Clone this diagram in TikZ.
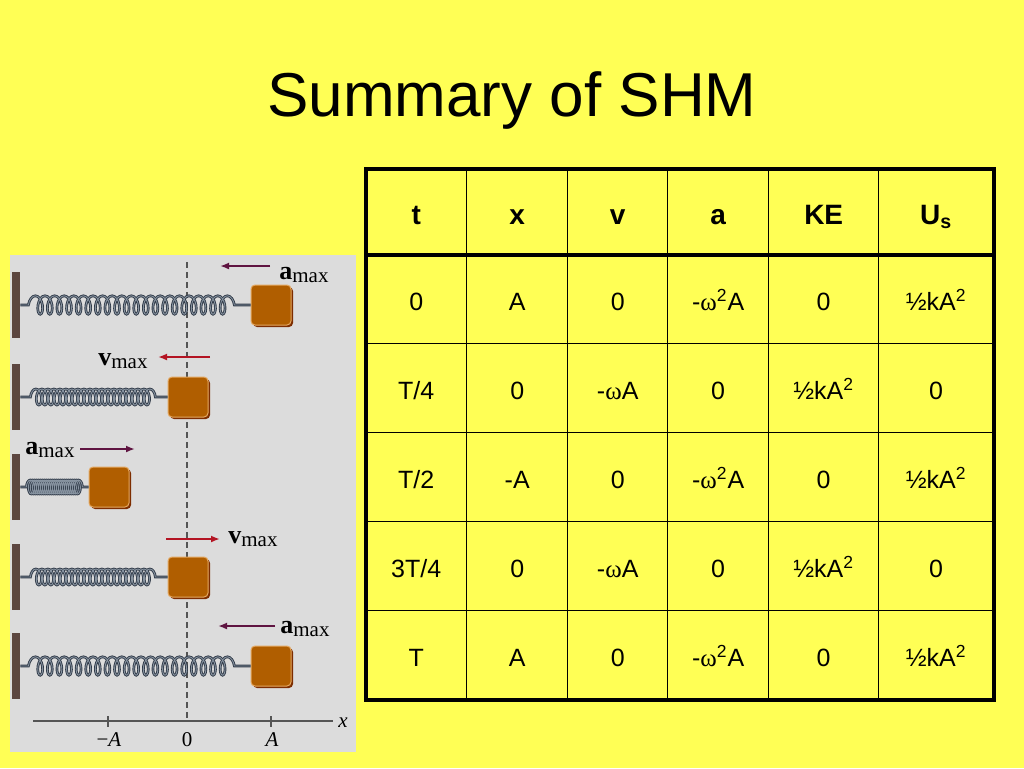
\documentclass[tikz,border=0pt]{standalone}
\usepackage{fontspec}
\setmainfont{Liberation Sans}
\newfontfamily\timesfont{Liberation Serif}
\usepackage{tikz}
\usetikzlibrary{arrows.meta}
\usetikzlibrary{positioning}
\usetikzlibrary{matrix}
\usetikzlibrary{shadows}
\usetikzlibrary{decorations.pathmorphing}

\definecolor{slideyellow}{RGB}{255,255,85}
\definecolor{panelgray}{RGB}{220,220,220}
\definecolor{wallbrown}{RGB}{92,70,64}
\definecolor{blockfill}{RGB}{176,94,0}
\definecolor{blockdark}{RGB}{125,45,0}
\definecolor{blocklight}{RGB}{228,168,98}
\definecolor{springdark}{RGB}{48,58,72}
\definecolor{springlight}{RGB}{135,147,160}
\definecolor{accpurple}{RGB}{95,20,65}
\definecolor{velred}{RGB}{180,20,35}
\definecolor{axisgray}{RGB}{85,85,85}

\tikzset{>=latex}
\tikzstyle{wall} = [rectangle, inner sep=0, minimum width=4pt, minimum height=33pt, fill=wallbrown]
\tikzstyle{blk} = [rectangle, inner sep=0, minimum size=20pt, fill=blockfill, draw=blocklight, line width=0.5pt,
  rounded corners=2pt, drop shadow={shadow xshift=1pt, shadow yshift=-1pt, fill=blockdark, opacity=1}]
\tikzstyle{lbl} = [inner sep=0, anchor=base west, font=\timesfont\fontsize{13}{13}\selectfont]
\tikzstyle{axlbl} = [inner sep=0, anchor=base, font=\timesfont\fontsize{10.5}{10.5}\selectfont]
\tikzstyle{acc} = [-{Latex[length=4.5pt,width=3.5pt]}, draw=accpurple, line width=1pt]
\tikzstyle{vel} = [-{Latex[length=4.5pt,width=3.5pt]}, draw=velred, line width=1pt]
\tikzset{
  spring/.style n args={3}{decorate, decoration={coil, amplitude=#1, segment length=#2, pre length=#3, post length=#3},
    draw=springdark, line width=0.45pt, double=springlight, double distance=0.45pt},
  cell/.style={draw, line width=0.7pt, inner sep=0, outer sep=0, minimum height=44.5pt,
    text height=12pt, text depth=0.9pt, font=\fontsize{12.5}{12.5}\selectfont},
  hcell/.style={minimum height=43pt, text height=13.5pt, text depth=1pt, font=\bfseries\fontsize{14}{14}\selectfont}
}
\newcommand{\om}{{\timesfont ω}}
\newcommand{\maxsub}{\raisebox{-0.28ex}{\fontsize{10.5}{10.5}\selectfont max}}

\begin{document}
\begin{tikzpicture}[x=0.5pt, y=-0.5pt]
\fill[slideyellow] (0,0) rectangle (1024,768);
\useasboundingbox (0,0) rectangle (1024,768);
\node[anchor=base, inner sep=0, font=\fontsize{31}{31}\selectfont] (title) at (512,116) {Summary of SHM};

% the springs picture
\fill[panelgray] (10,255) rectangle (356,752);
\coordinate (eqtop) at (187,262);
\coordinate (eqbot) at (187,721);
\draw[axisgray, line width=0.6pt, dash pattern=on 3pt off 2pt] (eqtop) -- (eqbot);

\node[wall] (w1) at (16,305) {};
\node[wall] (w2) at (16,397) {};
\node[wall] (w3) at (16,487) {};
\node[wall] (w4) at (16,577) {};
\node[wall] (w5) at (16,666) {};
\node[blk] (b1) at (271,305) {};
\node[blk] (b2) at (188,397) {};
\node[blk] (b3) at (109,487) {};
\node[blk] (b4) at (188,577) {};
\node[blk] (b5) at (271,666) {};
\draw[spring={4.6pt}{4.8pt}{4pt}] (w1.east) -- (b1.west);
\draw[spring={4pt}{3pt}{5pt}] (w2.east) -- (b2.west);
\draw[spring={3.5pt}{1pt}{3pt}] (w3.east) -- (b3.west);
\draw[spring={4pt}{3pt}{5pt}] (w4.east) -- (b4.west);
\draw[spring={4.6pt}{4.8pt}{4pt}] (w5.east) -- (b5.west);

% arrows and their labels
\node[lbl] (l1) at (279,279) {\textbf{a}\maxsub};
\node[lbl] (l2) at (98,365) {\textbf{v}\maxsub};
\node[lbl] (l3) at (25,454) {\textbf{a}\maxsub};
\node[lbl] (l4) at (228,543) {\textbf{v}\maxsub};
\node[lbl] (l5) at (280,633) {\textbf{a}\maxsub};
\coordinate (a1s) at (270,266); \coordinate (a1e) at (220,266);
\coordinate (a2s) at (210,357); \coordinate (a2e) at (158,357);
\coordinate (a3s) at (80,449);  \coordinate (a3e) at (135,449);
\coordinate (a4s) at (166,539); \coordinate (a4e) at (220,539);
\coordinate (a5s) at (275,626); \coordinate (a5e) at (218,626);
\draw[acc] (a1s) -- (a1e);
\draw[vel] (a2s) -- (a2e);
\draw[acc] (a3s) -- (a3e);
\draw[vel] (a4s) -- (a4e);
\draw[acc] (a5s) -- (a5e);

% x axis
\coordinate (ax0) at (33,721);
\coordinate (ax1) at (333,721);
\draw[axisgray, line width=0.7pt] (ax0) -- (ax1);
\foreach \t in {108,271}
  \draw[axisgray, line width=0.7pt] (\t,716) -- (\t,727);
\node[axlbl] (xm) at (109,746) {−\textit{A}};
\node[axlbl] (xz) at (187,746) {0};
\node[axlbl] (xp) at (272,746) {\textit{A}};
\node[axlbl] (xl) at (343,727) {\textit{x}};

% summary table
\matrix (tbl) [matrix of nodes, anchor=north west, inner sep=0, outer sep=0, column sep=-0.7pt, row sep=-0.7pt,
  nodes={cell}, row 1/.style={nodes={hcell}},
  column 1/.style={nodes={minimum width=50.5pt}},
  column 2/.style={nodes={minimum width=50.5pt}},
  column 3/.style={nodes={minimum width=50pt}},
  column 4/.style={nodes={minimum width=50.5pt}},
  column 5/.style={nodes={minimum width=55pt}},
  column 6/.style={nodes={minimum width=57.5pt}}] at (365,168) {
  t & x & v & a & KE & U\textsubscript{s} \\
  0 & A & 0 & -\om\textsuperscript{2}A & 0 & ½kA\textsuperscript{2} \\
  T/4 & 0 & -\om A & 0 & ½kA\textsuperscript{2} & 0 \\
  T/2 & -A & 0 & -\om\textsuperscript{2}A & 0 & ½kA\textsuperscript{2} \\
  3T/4 & 0 & -\om A & 0 & ½kA\textsuperscript{2} & 0 \\
  T & A & 0 & -\om\textsuperscript{2}A & 0 & ½kA\textsuperscript{2} \\
};
\draw[line width=2pt] (tbl-1-1.north west) rectangle (tbl-6-6.south east);
\draw[line width=2pt] (tbl-1-1.south west) -- (tbl-1-6.south east);
\end{tikzpicture}
\end{document}
